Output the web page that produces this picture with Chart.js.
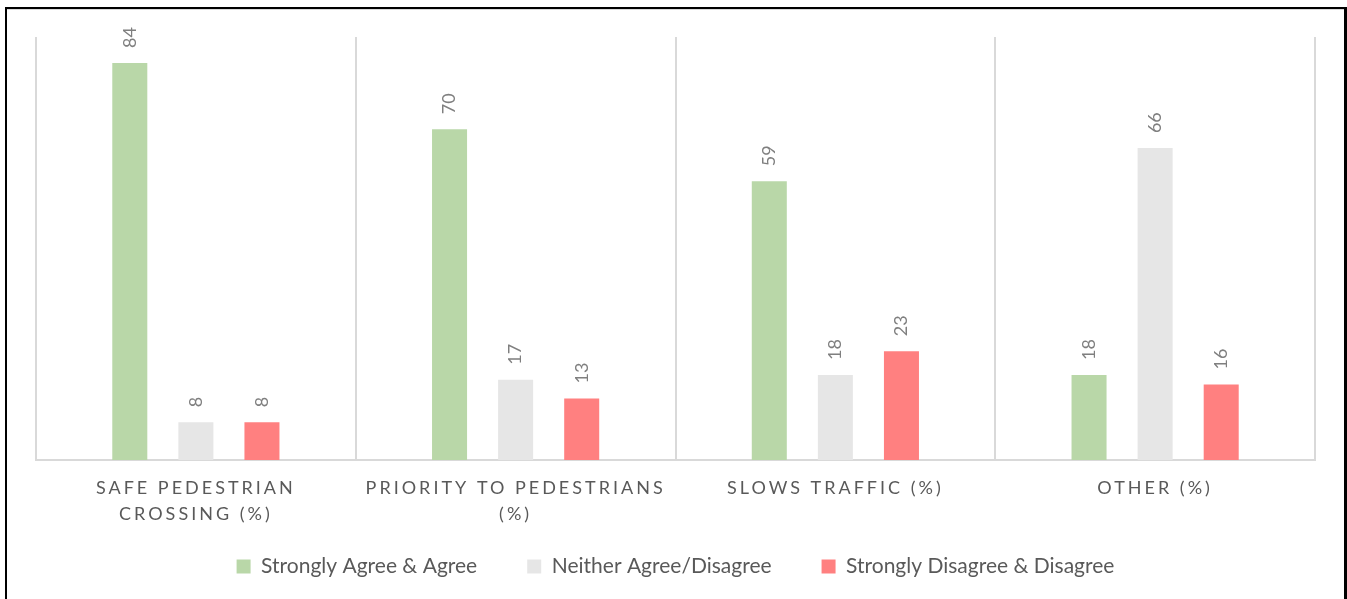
<!DOCTYPE html>
<html>
<head>
<meta charset="utf-8">
<script src="https://cdn.jsdelivr.net/npm/chart.js@4.4.0/dist/chart.umd.min.js"></script>
<style>
    html, body { margin: 0; padding: 0; background: #fff; overflow: hidden; }
    #frame {
        position: absolute; left: 5px; top: 7px;
        width: 1337px; height: 592px;
        border-left: 2px solid #000; border-top: 2px solid #000; border-right: 3px solid #000;
        box-shadow: inset 0 1px 0 #d9d9d9;
    }
    canvas { display: block; }
</style>
</head>
<body>
<div id="frame"><canvas id="surveyChart" width="1337" height="592"></canvas></div>
<script>
const categories = [
    ['SAFE PEDESTRIAN', 'CROSSING (%)'],
    ['PRIORITY TO PEDESTRIANS', '(%)'],
    'SLOWS TRAFFIC (%)',
    'OTHER (%)'
];
const seriesNames = ['Strongly Agree & Agree', 'Neither Agree/Disagree', 'Strongly Disagree & Disagree'];
const agreeValues = [84, 70, 59, 18];
const neitherValues = [8, 17, 18, 66];
const disagreeValues = [8, 13, 23, 16];

const FONT = 'Lato';
Chart.defaults.font.family = FONT;

// value labels rotated to read bottom-to-top, sitting above each bar
const barValueLabels = {
    id: 'barValueLabels',
    afterDatasetsDraw(chart) {
        const ctx = chart.ctx;
        ctx.save();
        ctx.font = `18px ${FONT}`;
        ctx.fillStyle = '#7f7f7f';
        ctx.textAlign = 'left';
        ctx.textBaseline = 'middle';
        chart.data.datasets.forEach((ds, i) => {
            chart.getDatasetMeta(i).data.forEach((bar, j) => {
                ctx.save();
                ctx.translate(bar.x, bar.y - 15);
                ctx.rotate(-Math.PI / 2);
                ctx.fillText(String(ds.data[j]), 0, 0);
                ctx.restore();
            });
        });
        ctx.restore();
    }
};

// spaced-out caps on the category axis, and don't clip the 2nd line
const spacedTicks = {
    id: 'spacedTicks',
    beforeDraw(chart) {
        const s = chart.scales.x;
        if (!s || s._spaced) return;
        const orig = s.drawLabels.bind(s);
        s._computeLabelArea = () => undefined;
        s.drawLabels = function(area) {
            chart.ctx.save();
            chart.ctx.letterSpacing = '3px';
            orig(area);
            chart.ctx.restore();
        };
        s._spaced = true;
    }
};

const ctx = document.getElementById('surveyChart');
new Chart(ctx, {
    type: 'bar',
    data: {
        labels: categories,
        datasets: [
            { label: seriesNames[0], data: agreeValues, backgroundColor: '#b9d7a8', borderWidth: 0 },
            { label: seriesNames[1], data: neitherValues, backgroundColor: '#e6e6e6', borderWidth: 0 },
            { label: seriesNames[2], data: disagreeValues, backgroundColor: '#ff8080', borderWidth: 0 }
        ]
    },
    options: {
        responsive: false,
        animation: false,
        categoryPercentage: 0.62,
        barPercentage: 0.53,
        layout: { padding: { left: 29, right: 29, top: 28, bottom: 14 } },
        plugins: {
            tooltip: { enabled: false },
            legend: {
                position: 'bottom',
                labels: {
                    boxWidth: 14,
                    boxHeight: 14,
                    padding: 50,
                    color: '#595959',
                    font: { size: 21, family: FONT }
                }
            }
        },
        scales: {
            x: {
                grid: { color: '#d9d9d9', lineWidth: 2, drawTicks: false, offset: true },
                border: { display: true, color: '#d9d9d9', width: 2 },
                ticks: {
                    color: '#595959',
                    padding: 15,
                    maxRotation: 0,
                    autoSkip: false,
                    font: { size: 18, family: FONT, lineHeight: 1.45 }
                },
                afterFit(scale) { scale.height = 46; }
            },
            y: {
                display: false,
                min: 0,
                max: 89.5
            }
        }
    },
    plugins: [barValueLabels, spacedTicks]
});
</script>
</body>
</html>
